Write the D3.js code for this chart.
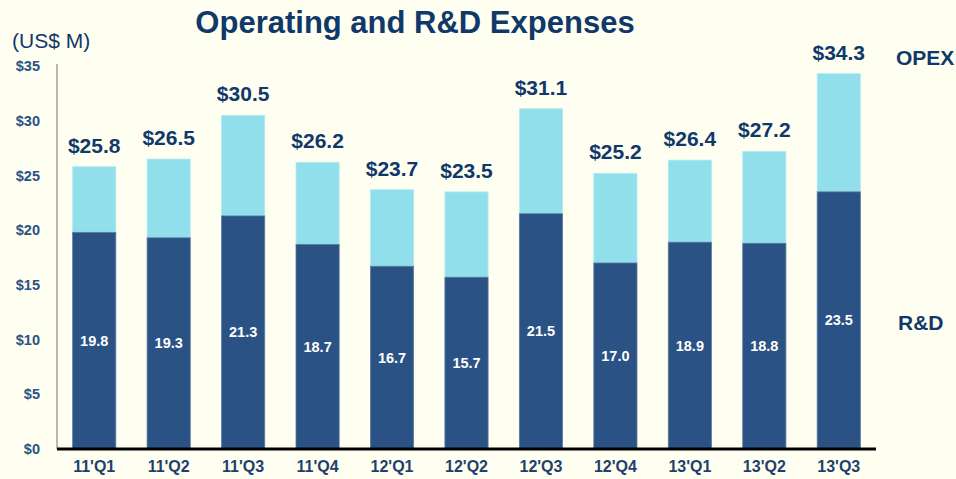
<!DOCTYPE html>
<html>
<head>
<meta charset="utf-8">
<script src="https://cdn.jsdelivr.net/npm/d3@7"></script>
<style>
  body { margin: 0; background: #fefff0; }
  svg { display: block; }
</style>
</head>
<body>
<div id="chart"></div>
<script>
// quarters and values (US$ M)
const quarters = ["11'Q1", "11'Q2", "11'Q3", "11'Q4", "12'Q1", "12'Q2", "12'Q3", "12'Q4", "13'Q1", "13'Q2", "13'Q3"];
const rdValues = [19.8, 19.3, 21.3, 18.7, 16.7, 15.7, 21.5, 17.0, 18.9, 18.8, 23.5];
const opexTotals = [25.8, 26.5, 30.5, 26.2, 23.7, 23.5, 31.1, 25.2, 26.4, 27.2, 34.3];
const yTicks = [0, 5, 10, 15, 20, 25, 30, 35];

const width = 956, height = 479;
const margin = { left: 57, right: 80, top: 66, bottom: 30 };
const navy = '#10386b';
const dark = '#2a5284';
const light = '#92dfec';
const font = 'Arial, "Liberation Sans", sans-serif';

const svg = d3.select('#chart').append('svg')
    .attr('width', width)
    .attr('height', height);

svg.append('rect')
    .attr('width', width)
    .attr('height', height)
    .attr('fill', '#fefff0');

const x = d3.scaleBand()
    .domain(quarters)
    .range([margin.left, 876])
    .paddingInner(0.42)
    .paddingOuter(0.21);

const y = d3.scaleLinear()
    .domain([0, 35])
    .range([449, 66]);

// title
svg.append('text')
    .attr('x', 415)
    .attr('y', 33)
    .attr('text-anchor', 'middle')
    .style('font-family', font)
    .style('font-weight', 'bold')
    .style('font-size', '31px')
    .style('fill', navy)
    .text('Operating and R&D Expenses');

svg.append('text')
    .attr('x', 12)
    .attr('y', 48)
    .style('font-family', font)
    .style('font-size', '21px')
    .style('fill', navy)
    .text('(US$ M)');

// y axis labels
const yAxis = d3.axisLeft(y)
    .tickValues(yTicks)
    .tickSize(0)
    .tickPadding(17)
    .tickFormat(d => '$' + d);

const gy = svg.append('g')
    .attr('transform', 'translate(' + margin.left + ',0)')
    .call(yAxis);
gy.select('.domain')
    .attr('stroke', '#a0a0a0')
    .attr('stroke-width', 1.5)
    .attr('d', 'M0,' + (y(35) - 2) + 'V' + y(0));
gy.selectAll('text')
    .style('font-family', font)
    .style('font-weight', 'bold')
    .style('font-size', '14.5px')
    .style('fill', dark);

// bars
const groups = svg.selectAll('g.bar-group')
    .data(quarters)
    .enter()
    .append('g')
    .attr('class', 'bar-group');

groups.append('rect')
    .attr('x', d => x(d))
    .attr('width', x.bandwidth())
    .attr('y', (d, i) => y(opexTotals[i]))
    .attr('height', (d, i) => y(rdValues[i]) - y(opexTotals[i]))
    .attr('fill', light)
    .attr('stroke', '#b4ecf4')
    .attr('stroke-width', 0.8);

groups.append('rect')
    .attr('x', d => x(d))
    .attr('width', x.bandwidth())
    .attr('y', (d, i) => y(rdValues[i]))
    .attr('height', (d, i) => y(0) - y(rdValues[i]))
    .attr('fill', dark)
    .attr('stroke', '#5a7aa4')
    .attr('stroke-width', 0.8);

// R&D labels inside bars
groups.append('text')
    .attr('x', d => x(d) + x.bandwidth() / 2)
    .attr('y', (d, i) => y(rdValues[i] / 2) + 5)
    .attr('text-anchor', 'middle')
    .style('font-family', font)
    .style('font-weight', 'bold')
    .style('font-size', '14.5px')
    .style('fill', '#ffffff')
    .text((d, i) => rdValues[i].toFixed(1));

// total labels
groups.append('text')
    .attr('x', d => x(d) + x.bandwidth() / 2)
    .attr('y', (d, i) => y(opexTotals[i]) - 14)
    .attr('text-anchor', 'middle')
    .style('font-family', font)
    .style('font-weight', 'bold')
    .style('font-size', '21px')
    .style('fill', navy)
    .text((d, i) => '$' + opexTotals[i].toFixed(1));

// x axis
const xAxis = d3.axisBottom(x).tickSize(0).tickPadding(12);
const gx = svg.append('g')
    .attr('transform', 'translate(0,' + y(0) + ')')
    .call(xAxis);
gx.select('.domain')
    .attr('stroke', '#000')
    .attr('stroke-width', 3)
    .attr('d', 'M' + margin.left + ',0H876');
gx.selectAll('text')
    .style('font-family', font)
    .style('font-weight', 'bold')
    .style('font-size', '16px')
    .style('fill', '#1f3f6e');

// series labels
svg.append('text')
    .attr('x', 896)
    .attr('y', 65)
    .style('font-family', font)
    .style('font-weight', 'bold')
    .style('font-size', '21px')
    .style('fill', navy)
    .text('OPEX');

svg.append('text')
    .attr('x', 898)
    .attr('y', 330)
    .style('font-family', font)
    .style('font-weight', 'bold')
    .style('font-size', '21px')
    .style('fill', navy)
    .text('R&D');
</script>
</body>
</html>
